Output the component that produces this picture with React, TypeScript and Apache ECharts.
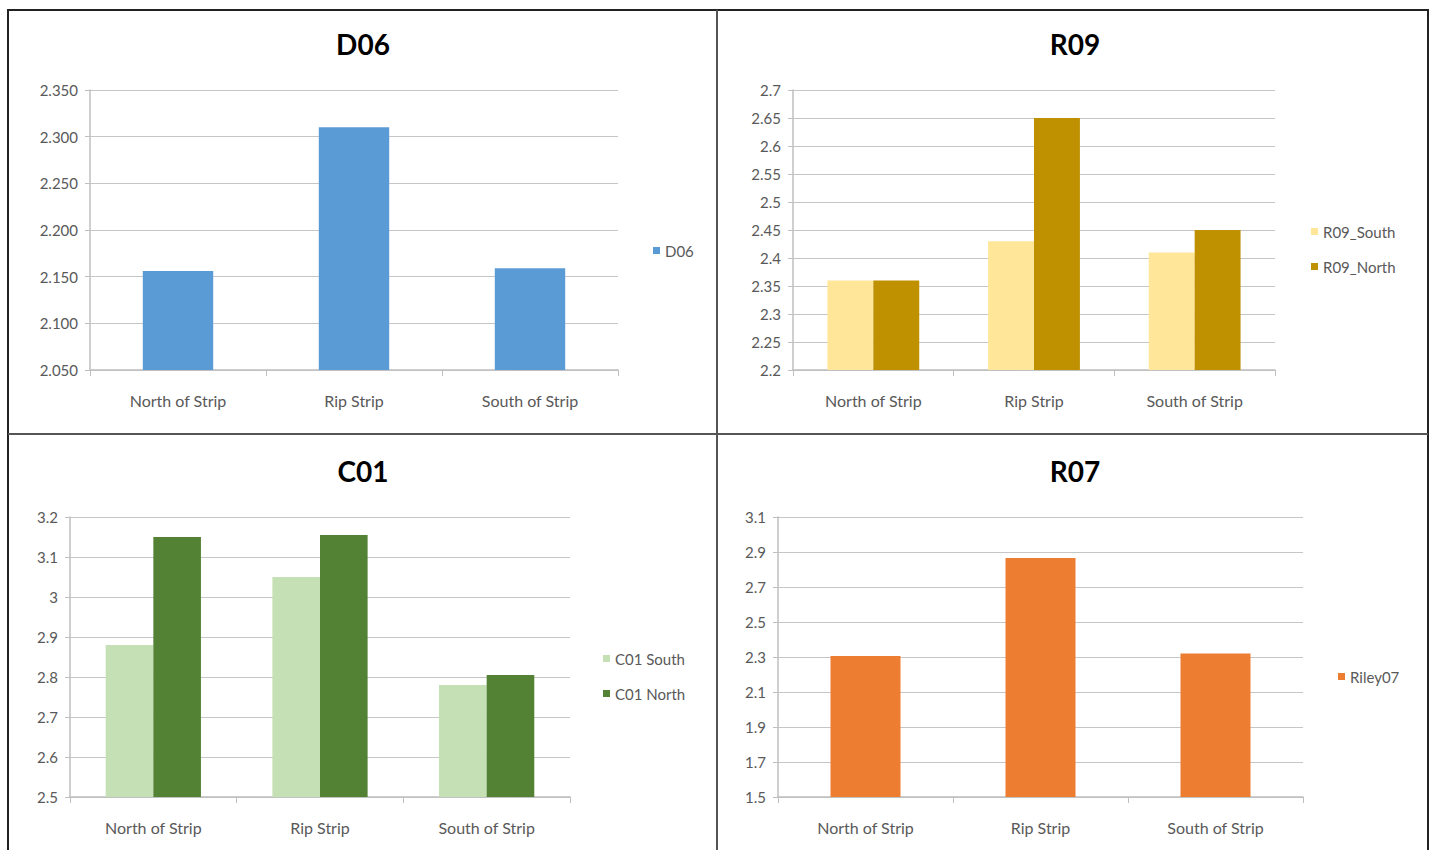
import React, { useEffect, useRef } from "react";
import * as echarts from "echarts";

const categories = ["North of Strip", "Rip Strip", "South of Strip"];
const d06Values = [2.156, 2.31, 2.159];
const r09South = [2.36, 2.43, 2.41];
const r09North = [2.36, 2.65, 2.45];
const c01South = [2.88, 3.05, 2.78];
const c01North = [3.15, 3.155, 2.805];
const r07Values = [2.306, 2.866, 2.32];

const titles = ["D06", "R09", "C01", "R07"];
const d06Axis = { min: 2.05, max: 2.35, interval: 0.05 };
const r09Axis = { min: 2.2, max: 2.7, interval: 0.05 };
const c01Axis = { min: 2.5, max: 3.2, interval: 0.1 };
const r07Axis = { min: 1.5, max: 3.1, interval: 0.2 };

const FONT = "Lato, 'Open Sans', sans-serif";
const LABEL = "#595959";

export default function App() {
  const ref = useRef<HTMLDivElement>(null);
  useEffect(() => {
    if (!ref.current) return;
    const chart = echarts.init(ref.current, undefined, { renderer: "svg" });

    const grids = [
      { left: 90, top: 90, width: 528, height: 280 },
      { left: 793, top: 90, width: 482, height: 280 },
      { left: 70, top: 517, width: 500, height: 280 },
      { left: 778, top: 517, width: 525, height: 280 },
    ];
    const axes = [d06Axis, r09Axis, c01Axis, r07Axis];
    const fmt = [
      (v: number) => v.toFixed(3),
      (v: number) => String(parseFloat(v.toFixed(2))),
      (v: number) => String(parseFloat(v.toFixed(2))),
      (v: number) => String(parseFloat(v.toFixed(2))),
    ];
    const titleCenters = [
      { x: 358, y: 25 },
      { x: 1070, y: 25 },
      { x: 358, y: 452 },
      { x: 1070, y: 452 },
    ];

    const xAxis = grids.map((_, i) => ({
      type: "category",
      gridIndex: i,
      data: categories,
      axisLine: { lineStyle: { color: "#bfbfbf", width: 1.5 } },
      axisTick: { show: true, length: 6, lineStyle: { color: "#bfbfbf" } },
      axisLabel: { color: LABEL, fontSize: 16, fontFamily: FONT, margin: 22 },
    }));
    const yAxis = grids.map((_, i) => ({
      type: "value",
      gridIndex: i,
      min: axes[i].min,
      max: axes[i].max,
      interval: axes[i].interval,
      axisLine: { show: true, lineStyle: { color: "#bfbfbf", width: 1.5 } },
      axisTick: { show: true, length: 5, lineStyle: { color: "#bfbfbf" } },
      splitLine: { show: true, lineStyle: { color: "#c6c6c6", width: 1.2 } },
      axisLabel: { color: LABEL, fontSize: 15, fontFamily: FONT, margin: 12, formatter: fmt[i] },
    }));

    const single = "60%";
    const dbl = "42.86%";
    const series: any[] = [
      { name: "D06", type: "bar", xAxisIndex: 0, yAxisIndex: 0, data: d06Values, itemStyle: { color: "#5B9BD5" }, barCategoryGap: single },
      { name: "R09_South", type: "bar", xAxisIndex: 1, yAxisIndex: 1, data: r09South, itemStyle: { color: "#FFE699" }, barGap: "0%", barCategoryGap: dbl },
      { name: "R09_North", type: "bar", xAxisIndex: 1, yAxisIndex: 1, data: r09North, itemStyle: { color: "#BF9000" }, barGap: "0%", barCategoryGap: dbl },
      { name: "C01 South", type: "bar", xAxisIndex: 2, yAxisIndex: 2, data: c01South, itemStyle: { color: "#C5E0B4" }, barGap: "0%", barCategoryGap: dbl },
      { name: "C01 North", type: "bar", xAxisIndex: 2, yAxisIndex: 2, data: c01North, itemStyle: { color: "#548235" }, barGap: "0%", barCategoryGap: dbl },
      { name: "Riley07", type: "bar", xAxisIndex: 3, yAxisIndex: 3, data: r07Values, itemStyle: { color: "#ED7D31" }, barCategoryGap: single },
    ];

    const legendBase = {
      orient: "vertical",
      itemWidth: 7,
      itemHeight: 7,
      itemGap: 20,
      icon: "rect",
      textStyle: { color: LABEL, fontSize: 15, fontFamily: FONT },
    };
    const legend = [
      { ...legendBase, left: 648, top: 238, data: ["D06"] },
      { ...legendBase, left: 1306, top: 219, data: ["R09_South", "R09_North"] },
      { ...legendBase, left: 598, top: 646, data: ["C01 South", "C01 North"] },
      { ...legendBase, left: 1333, top: 664, data: ["Riley07"] },
    ];

    const title = titles.map((t, i) => ({
      text: t,
      left: titleCenters[i].x,
      top: titleCenters[i].y,
      textAlign: "center",
      textStyle: { fontSize: 28, fontWeight: "bold", color: "#000", fontFamily: FONT },
    }));

    const graphic = [
      { type: "rect", shape: { x: 8, y: 10, width: 1420, height: 850 }, style: { fill: "none", stroke: "#222", lineWidth: 2 }, z: 100 },
      { type: "line", shape: { x1: 717, y1: 10, x2: 717, y2: 850 }, style: { stroke: "#555", lineWidth: 2 }, z: 100 },
      { type: "line", shape: { x1: 8, y1: 434, x2: 1428, y2: 434 }, style: { stroke: "#555", lineWidth: 2 }, z: 100 },
    ];

    chart.setOption({
      animation: false,
      backgroundColor: "#fff",
      title,
      grid: grids,
      xAxis,
      yAxis,
      legend,
      series,
      graphic,
    } as any);
    return () => chart.dispose();
  }, []);
  return <div ref={ref} style={{ position: "fixed", left: 0, top: 0, width: 1434, height: 850 }} />;
}
